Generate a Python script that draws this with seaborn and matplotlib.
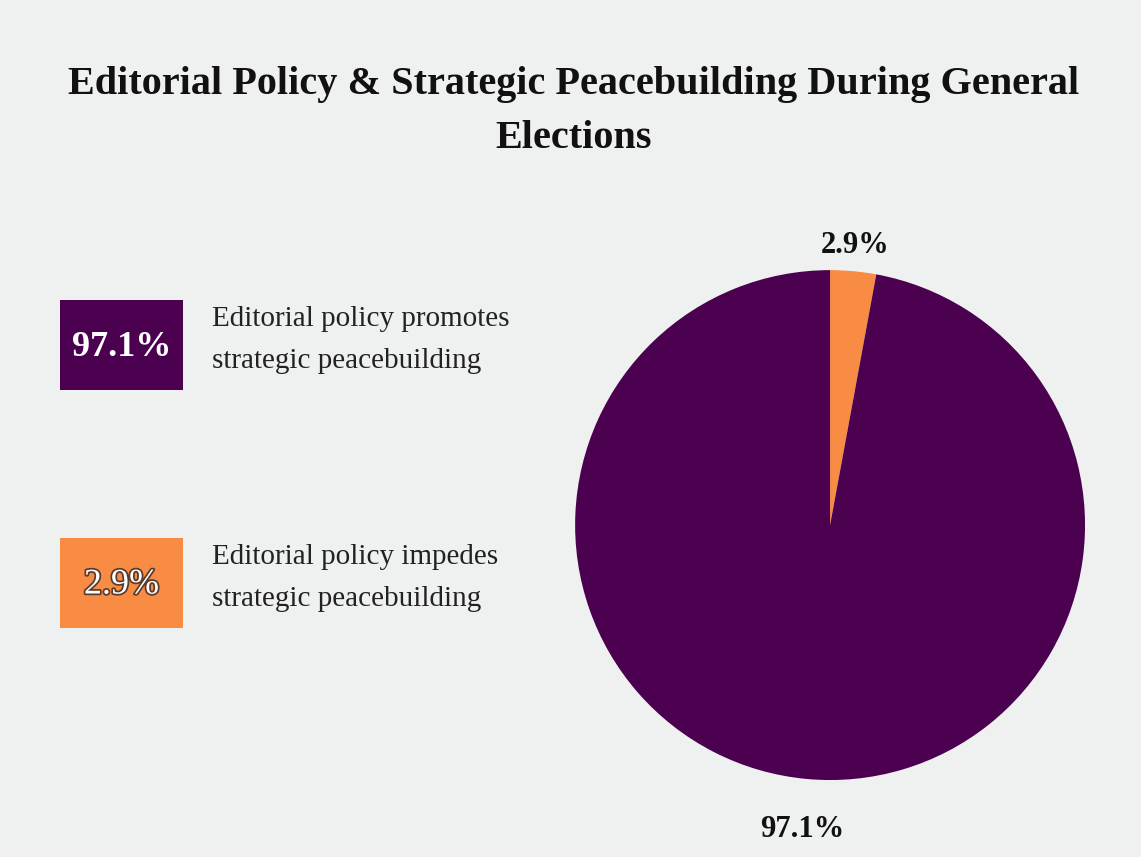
import numpy as np
import seaborn as sns
import matplotlib.pyplot as plt
from matplotlib.patches import Rectangle
import matplotlib.patheffects as pe

# data
categories = ["Editorial policy promotes\nstrategic peacebuilding",
              "Editorial policy impedes\nstrategic peacebuilding"]
shares = [97.1, 2.9]
pct_labels = ["97.1%", "2.9%"]
colors = ["#4b0050", "#f98c45"]
title = "Editorial Policy & Strategic Peacebuilding During General\nElections"

sns.set_theme(style="white")
plt.rcParams['font.family'] = ['Liberation Serif', 'DejaVu Serif']
bg = "#eff1f0"

fig = plt.figure(figsize=(11.41, 8.57), dpi=100, facecolor=bg)

fig.text(0.503, 0.870, title, ha="center", va="center", fontsize=29,
         fontweight="bold", color="#111111", linespacing=1.6)

# pie (orange slice first, drawn clockwise from the top)
ax = fig.add_axes([0.504, 0.0898, 0.447, 0.595])
ax.set_facecolor(bg)
wedges, texts = ax.pie(shares[::-1], colors=colors[::-1], labels=pct_labels[::-1],
                       startangle=90, counterclock=False, labeldistance=1.15,
                       wedgeprops=dict(linewidth=0),
                       textprops=dict(fontsize=22, fontweight="bold", color="#111111"))
label_dist = [1.10, 1.20]
for w, t, r in zip(wedges, texts, label_dist):
    ang = np.deg2rad((w.theta1 + w.theta2) / 2)
    t.set_position((r * np.cos(ang), r * np.sin(ang)))
    t.set_ha("center")
ax.set_xlim(-1, 1)
ax.set_ylim(-1, 1)
ax.set_aspect("equal")
ax.axis("off")

# custom legend on the left
box_tops = [300, 538]
for i, (lab, pct, col) in enumerate(zip(categories, pct_labels, colors)):
    top = box_tops[i]
    fig.patches.append(Rectangle((60 / 1141, 1 - (top + 90) / 857), 123 / 1141, 90 / 857,
                                 transform=fig.transFigure, facecolor=col,
                                 edgecolor="none"))
    t = fig.text(121.5 / 1141, 1 - (top + 47) / 857, pct, ha="center", va="center",
                 fontsize=26, fontweight="bold", color="white")
    if i == 1:
        t.set_path_effects([pe.withStroke(linewidth=2.5, foreground="#5a3a2a")])
        t.set_fontweight("normal")
    fig.text(212 / 1141, 1 - (top + 40) / 857, lab, ha="left", va="center",
             fontsize=21, color="#222222", linespacing=1.75)

fig.savefig("out.png", dpi=100, facecolor=bg)
